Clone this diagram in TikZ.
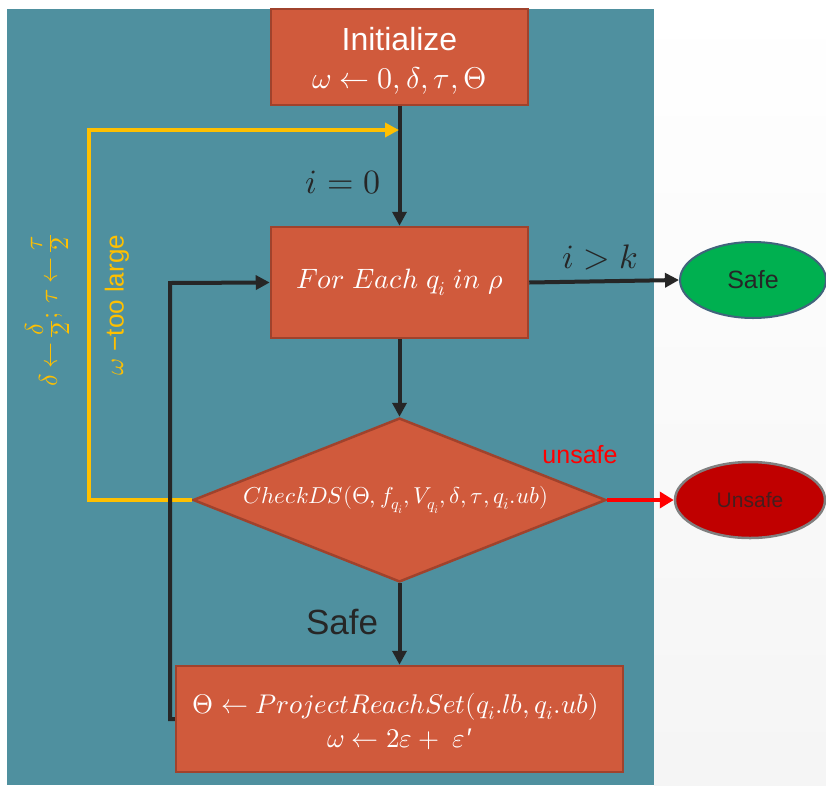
\documentclass[tikz,border=0pt]{standalone}
\usepackage{fontspec}
\usepackage{unicode-math}
\setmainfont{Liberation Sans}
\setmathfont{Latin Modern Math}
\usetikzlibrary{shapes.geometric,arrows.meta}
\definecolor{bgteal}{HTML}{4F909F}
\definecolor{boxfill}{HTML}{D05A3C}
\definecolor{boxdraw}{HTML}{A0422C}
\definecolor{darkline}{HTML}{262626}
\definecolor{ylw}{HTML}{FFC000}
\definecolor{safegreen}{HTML}{00B050}
\definecolor{unsafered}{HTML}{C00000}
\definecolor{ellborder}{HTML}{41647C}
\newcommand{\stackfrac}[2]{{\setlength{\arraycolsep}{1.5pt}\setlength{\arrayrulewidth}{1.3pt}\renewcommand{\arraystretch}{0.8}\begin{array}{c}#1\\\hline #2\end{array}}}
\tikzset{
  procbox/.style={draw=boxdraw, fill=boxfill, line width=2.5pt, inner sep=0pt, text=white, align=center},
  blk/.style={draw=darkline, line width=4pt, -{Triangle[length=14pt,width=14pt]}},
  ylwline/.style={draw=ylw, line width=4pt, -{Triangle[length=14pt,width=14pt]}},
  redline/.style={draw=red, line width=4pt, -{Triangle[length=14pt,width=16pt]}},
  lbl/.style={inner sep=0pt, text=darkline},
}
\begin{document}
\begin{tikzpicture}[x=1pt,y=-1pt]
\useasboundingbox (0,0) rectangle (826,785);
\fill[white] (0,0) rectangle (826,785);
\shade[top color=white, bottom color=black!4] (654,0) rectangle (826,785);
\fill[bgteal] (7,9) rectangle (654,785);

% nodes
\node[procbox, minimum width=257, minimum height=96] (init) at (399.5,57) {};
\node[inner sep=0pt, text=white, anchor=base, font=\fontsize{32}{36}\selectfont] (inittxt) at (399.5,50) {Initialize};
\node[inner sep=0pt, text=white, anchor=base, font=\fontsize{30}{36}\selectfont] (initmath) at (399.5,88) {$\omega \leftarrow 0,\delta,\tau,\Theta$};
\node[procbox, minimum width=257, minimum height=111, font=\fontsize{28}{32}\selectfont] (fe) at (399.5,282.5)
  {$For\ Each\ q_i\ in\ \rho$};
\node[diamond, draw=boxdraw, fill=boxfill, line width=2.5pt, inner sep=0pt,
  minimum width=413, minimum height=164] (chk) at (399.5,500) {};
\node[inner sep=0pt, text=white, font=\fontsize{23}{26}\selectfont] (chktext) at (396,500)
  {$CheckDS(\Theta, f_{q_i}, V_{q_i}, \delta, \tau, q_i.ub)$};
\node[procbox, minimum width=447, minimum height=106] (proj) at (399.5,719) {};
\node[inner sep=0pt, text=white, anchor=base, font=\fontsize{27}{30}\selectfont] (projl1) at (396,713)
  {$\Theta \leftarrow ProjectReachSet(q_i.lb, q_i.ub)$};
\node[inner sep=0pt, text=white, anchor=base, font=\fontsize{27}{30}\selectfont] (projl2) at (399.5,747)
  {$\omega \leftarrow 2\varepsilon +\ \varepsilon\mkern1mu\mbox{\char"2032}$};
\node[ellipse, draw=ellborder, fill=safegreen, line width=2pt, inner sep=0pt,
  minimum width=146, minimum height=76, text=darkline, font=\fontsize{25}{30}\selectfont] (safe) at (753,280)
  {Safe};
\node[ellipse, draw=gray, fill=unsafered, line width=2.5pt, inner sep=0pt,
  minimum width=150, minimum height=76, text=darkline!80!unsafered, font=\fontsize{21}{26}\selectfont] (unsafe) at (750,500)
  {Unsafe};

% connectors
\draw[blk] (init.south) -- (fe.north);
\draw[blk] (fe.south) -- (chk.north);
\draw[blk] (chk.south) -- (proj.north);
\draw[blk] (fe.east) -- (safe.west);
\draw[redline] (chk.east) -- (unsafe.west);
\coordinate (ycorner) at (89,130);
\coordinate (yend) at (399,130);
\draw[ylwline] (chk.west) -| (ycorner) -- (yend);
\coordinate (bcorner) at (170,283);
\draw[blk] (proj.west) -| (bcorner) -- (fe.west);

% labels
\node[lbl, font=\fontsize{34}{40}\selectfont] (l0) at (343,183) {$i=0$};
\node[lbl, font=\fontsize{34}{40}\selectfont] (lk) at (600,258) {$i>k$};
\node[lbl, font=\fontsize{35}{40}\selectfont] (lsafe) at (342,622) {Safe};
\node[inner sep=0pt, text=red, font=\fontsize{25}{30}\selectfont] (lunsafe) at (580,455) {unsafe};
\node[inner sep=0pt, text=ylw, rotate=90, font=\fontsize{26}{30}\selectfont] (ldelta) at (51,311)
  {$\delta\mkern4mu{\leftarrow}\mkern4mu\stackfrac{\delta}{2}\mkern1mu;\mkern3mu\tau\mkern4mu{\leftarrow}\mkern4mu\stackfrac{\tau}{2}$};
\node[inner sep=0pt, text=ylw, rotate=90, font=\fontsize{26}{30}\selectfont] (lomega) at (117,305)
  {$\omega$ {\char"2212}too large};
\end{tikzpicture}
\end{document}
